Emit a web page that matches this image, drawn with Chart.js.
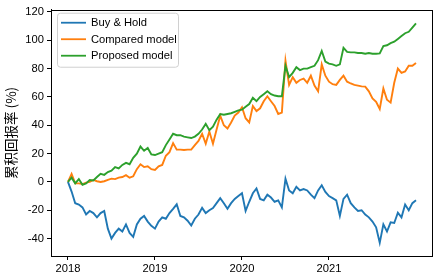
<!DOCTYPE html>
<html>
<head>
<meta charset="utf-8">
<script src="https://cdn.jsdelivr.net/npm/chart.js@4"></script>
<style>
  html, body { margin: 0; padding: 0; background: #fff; }
  #wrap { width: 437px; height: 275px; }
</style>
</head>
<body>
<div id="wrap"><canvas id="retChart"></canvas></div>
<script>
// half-month sampling points, 2018-01 .. 2022-01
const dates = [
  '2018-01-01','2018-01-16','2018-02-01','2018-02-16','2018-03-01','2018-03-16','2018-04-01','2018-04-16',
  '2018-05-01','2018-05-16','2018-06-01','2018-06-16','2018-07-01','2018-07-16','2018-08-01','2018-08-16',
  '2018-09-01','2018-09-16','2018-10-01','2018-10-16','2018-11-01','2018-11-16','2018-12-01','2018-12-16',
  '2019-01-01','2019-01-16','2019-02-01','2019-02-16','2019-03-01','2019-03-16','2019-04-01','2019-04-16',
  '2019-05-01','2019-05-16','2019-06-01','2019-06-16','2019-07-01','2019-07-16','2019-08-01','2019-08-16',
  '2019-09-01','2019-09-16','2019-10-01','2019-10-16','2019-11-01','2019-11-16','2019-12-01','2019-12-16',
  '2020-01-01','2020-01-16','2020-02-01','2020-02-16','2020-03-01','2020-03-16','2020-04-01','2020-04-16',
  '2020-05-01','2020-05-16','2020-06-01','2020-06-16','2020-07-01','2020-07-16','2020-08-01','2020-08-16',
  '2020-09-01','2020-09-16','2020-10-01','2020-10-16','2020-11-01','2020-11-16','2020-12-01','2020-12-16',
  '2021-01-01','2021-01-16','2021-02-01','2021-02-16','2021-03-01','2021-03-16','2021-04-01','2021-04-16',
  '2021-05-01','2021-05-16','2021-06-01','2021-06-16','2021-07-01','2021-07-16','2021-08-01','2021-08-16',
  '2021-09-01','2021-09-16','2021-10-01','2021-10-16','2021-11-01','2021-11-16','2021-12-01','2021-12-16',
  '2022-01-01'
];

// cumulative return (%)
const buyHold = [
  0, -6.8, -15, -16, -18, -23, -20.5, -22, -25, -22, -20.5, -33, -40, -36, -33, -35,
  -30, -36, -38.8, -30, -26, -24, -28, -31, -33, -28, -25, -26, -22, -19, -15.8, -24,
  -25, -27.4, -30.8, -26, -23, -18.3, -22, -20, -18.5, -15, -11.4, -15, -19, -15, -12, -10,
  -8, -20.5, -14, -8, -4.6, -12, -13, -9, -11, -14, -13, -18, 2.3, -6, -8, -3.4,
  -6, -5, -6, -9, -11.4, -6, -2.3, -7, -10, -11.4, -13, -24, -12, -9, -15, -18,
  -20.5, -20, -23, -25, -28, -32, -43, -30, -35, -28.5, -29, -21.7, -25, -16, -20, -15,
  -13
];

const comparedModel = [
  0, 5.7, -1, -1, -1.5, -0.5, 0, 1.4, 0.5, 0, 0.5, 1.5, 2.3, 2, 3, 3.5,
  4.8, 3, 4, 9, 12.5, 10.5, 11, 9, 8.5, 11, 12, 18.5, 21, 27.4, 22.8, 22.8,
  22.5, 22.8, 22.8, 26, 29, 34, 27, 35.6, 27, 37, 46.8, 40, 37.7, 42, 46.8, 49,
  52.7, 45, 42, 53.6, 50, 52, 57, 60.5, 57, 53.6, 48, 49, 85.6, 68.5, 74, 70,
  72, 73, 70, 75, 68, 64, 83, 75, 70.8, 69, 68.5, 72, 75, 70.8, 69.5, 68.5,
  68, 67.5, 67.3, 64, 59, 56.5, 51.5, 66, 58, 56, 70, 80, 77, 78, 82, 82,
  84
];

const proposedModel = [
  0, 3, -1, 2, -2, -1, 1.4, 1, 3.5, 5.7, 5, 7, 8, 10.5, 9.5, 12,
  13.5, 12.5, 17, 20, 25, 22, 24, 19.4, 19, 20, 21, 26, 30, 34, 33, 33,
  32, 31.5, 31, 32, 34, 37, 41, 36.5, 39, 44, 48, 47.5, 48, 48.5, 49.5, 50.5,
  51, 53, 55, 59.4, 57, 60, 62, 64, 62, 61, 60.5, 60.5, 82, 74, 77, 81,
  79, 80, 80, 81, 82, 86, 92.5, 85, 83.5, 83, 82, 83, 94.7, 91.8, 91.5, 91.5,
  91, 91, 90.5, 91, 90.5, 90.5, 90.8, 96, 96.5, 98, 99, 101, 103, 105, 106, 109,
  112
];

const seriesNames = ['Buy & Hold', 'Compared model', 'Proposed model'];
const seriesColors = ['#1f77b4', '#ff7f0e', '#2ca02c'];
const yearTicks = [2018, 2019, 2020, 2021];
const yTicks = [-40, -20, 0, 20, 40, 60, 80, 100, 120];
const yTitle = '累积回报率 (%)';

function toYear(s) {
  const [y, m, d] = s.split('-').map(Number);
  return y + (m - 1) / 12 + (d - 1) / 360;
}
const xs = dates.map(toYear);
const pts = arr => arr.map((v, i) => ({ x: xs[i], y: v }));

const FONT = 'Liberation Sans, Arial, sans-serif';

// matplotlib-like frame around the plot area
const framePlugin = {
  id: 'frame',
  afterDraw(chart) {
    const { ctx, chartArea: a } = chart;
    ctx.save();
    ctx.strokeStyle = '#000';
    ctx.lineWidth = 1;
    ctx.strokeRect(Math.round(a.left) + 0.5, Math.round(a.top) + 0.5,
                   Math.round(a.right - a.left), Math.round(a.bottom - a.top));
    ctx.restore();
  }
};

// legend box in the upper left, line samples like matplotlib
const legendPlugin = {
  id: 'mplLegend',
  afterDatasetsDraw(chart) {
    const { ctx, chartArea: a } = chart;
    const x0 = a.left + 6, y0 = a.top + 3, w = 121, h = 54;
    ctx.save();
    ctx.fillStyle = 'rgba(255,255,255,0.85)';
    ctx.strokeStyle = '#d0d0d0';
    ctx.lineWidth = 1;
    ctx.beginPath();
    ctx.roundRect(x0 + 0.5, y0 + 0.5, w, h, 3);
    ctx.fill();
    ctx.stroke();
    ctx.font = '11.2px ' + FONT;
    ctx.textBaseline = 'middle';
    chart.data.datasets.forEach((ds, i) => {
      const yy = y0 + 10 + i * 16.5;
      ctx.strokeStyle = ds.borderColor;
      ctx.lineWidth = 1.8;
      ctx.beginPath();
      ctx.moveTo(x0 + 4, yy);
      ctx.lineTo(x0 + 29, yy);
      ctx.stroke();
      ctx.fillStyle = '#000';
      ctx.fillText(ds.label, x0 + 34, yy + 0.5);
    });
    ctx.restore();
  }
};

const datasets = [buyHold, comparedModel, proposedModel].map((arr, i) => ({
  label: seriesNames[i],
  data: pts(arr),
  borderColor: seriesColors[i],
  backgroundColor: seriesColors[i],
  borderWidth: 1.9,
  pointRadius: 0,
  tension: 0,
  order: 2 - i   // green on top, as in the original
}));

new Chart(document.getElementById('retChart'), {
  type: 'line',
  data: { datasets },
  plugins: [framePlugin, legendPlugin],
  options: {
    responsive: true,
    maintainAspectRatio: false,
    animation: false,
    layout: { padding: { left: 0, right: 5, top: 3, bottom: 0 } },
    plugins: {
      legend: { display: false },
      tooltip: { enabled: false }
    },
    scales: {
      x: {
        type: 'linear',
        min: 2017.805,
        max: 2022.184,
        afterBuildTicks: (s) => { s.ticks = yearTicks.map(v => ({ value: v })); },
        afterFit: (s) => { s.height = 19; },
        ticks: {
          color: '#000',
          font: { family: FONT, size: 11.2 },
          padding: 2,
          maxRotation: 0,
          callback: (v) => String(v)
        },
        grid: { display: true, drawOnChartArea: false, drawTicks: true, tickLength: 4, color: '#000' },
        border: { display: true, color: '#000' }
      },
      y: {
        min: -52.3,
        max: 121.6,
        afterBuildTicks: (s) => { s.ticks = yTicks.map(v => ({ value: v })); },
        afterFit: (s) => { s.width = 51; },
        ticks: {
          color: '#000',
          font: { family: FONT, size: 11.2 },
          padding: 3
        },
        title: {
          display: true,
          text: yTitle,
          color: '#000',
          font: { family: '"Noto Sans CJK SC", sans-serif', size: 13.5 },
          padding: { top: 3, bottom: 0 }
        },
        grid: { display: true, drawOnChartArea: false, drawTicks: true, tickLength: 4, color: '#000' },
        border: { display: true, color: '#000' }
      }
    }
  }
});
</script>
</body>
</html>
